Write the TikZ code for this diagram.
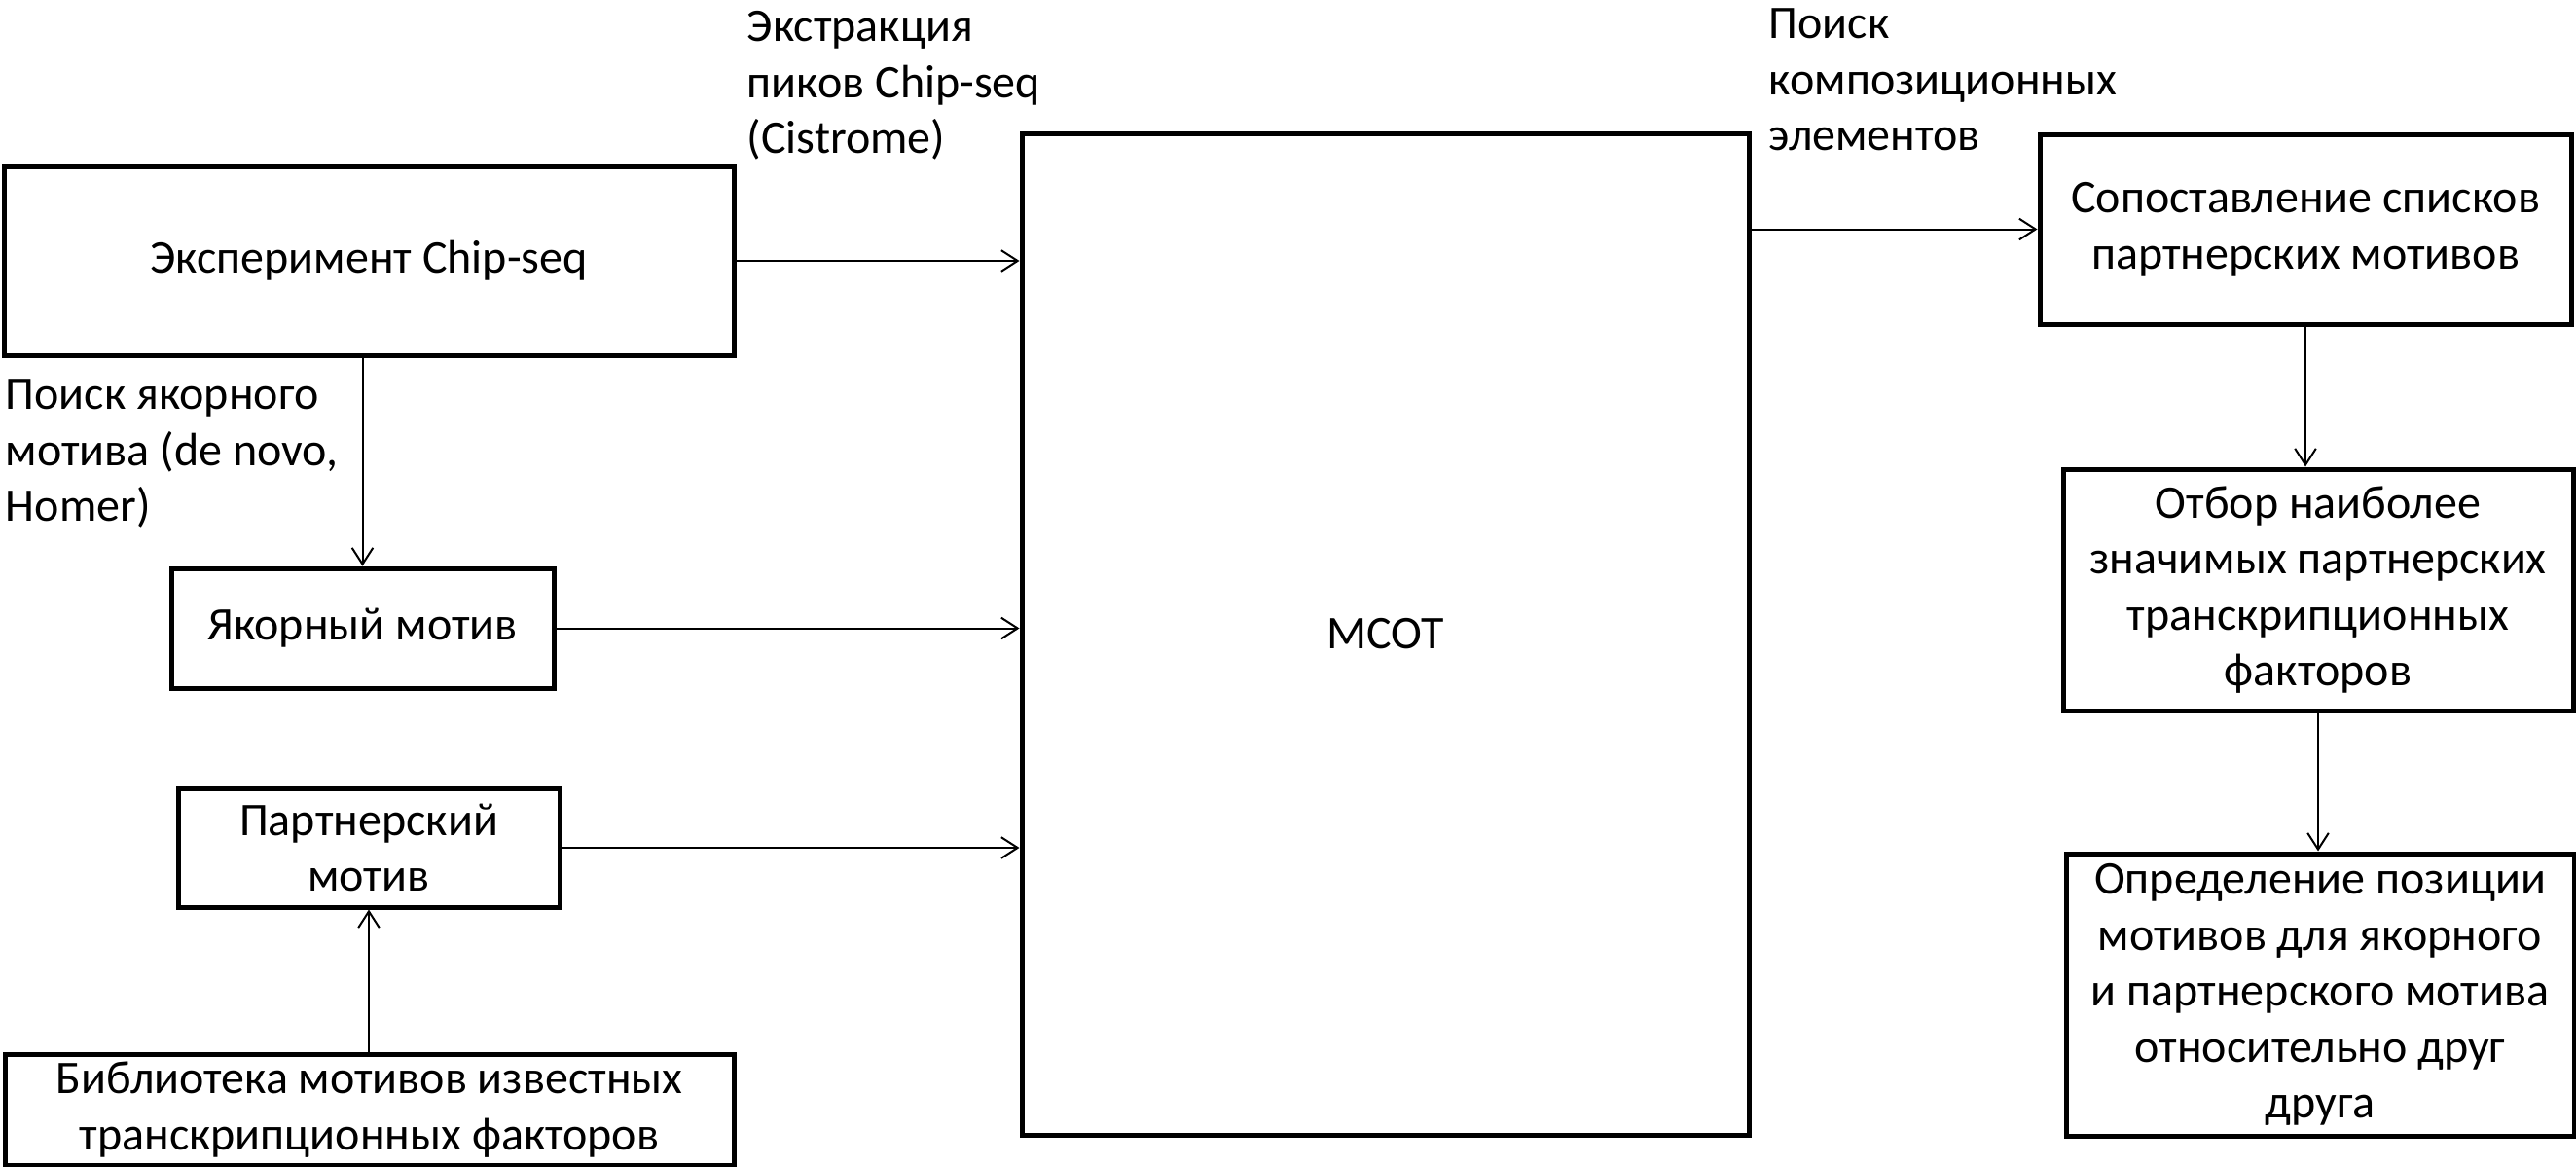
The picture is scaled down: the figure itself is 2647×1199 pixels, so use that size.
\documentclass[tikz,border=0pt]{standalone}
\usepackage{fontspec}
\setmainfont{Carlito}
\usetikzlibrary{arrows.meta}
\tikzset{
  box/.style={draw, line width=1.25pt, align=center, inner sep=0pt,
    font=\fontsize{12pt}{14.4pt}\selectfont},
  conn/.style={line width=0.5pt, -{Straight Barb[length=4.2pt,width=5.4pt,line width=0.5pt]}},
  lbl/.style={anchor=west, align=left, inner sep=0pt,
    font=\fontsize{12pt}{14.4pt}\selectfont}
}
\begin{document}
\begin{tikzpicture}[x=0.25pt,y=-0.25pt]
\useasboundingbox (0,0) rectangle (2647,1199);
% boxes
\node[box, minimum width=187.5pt, minimum height=48.5pt] (chip) at (379,268) {Эксперимент Chip-seq};
\node[box, minimum width=98.25pt, minimum height=30.75pt] (anchor) at (372.5,645.5) {Якорный мотив};
\node[box, minimum width=98pt, minimum height=30.5pt] (partner) at (379,871) {Партнерский\\мотив};
\node[box, minimum width=187.25pt, minimum height=28.5pt] (library) at (379.5,1140) {Библиотека мотивов известных\\транскрипционных факторов};
\node[box, minimum width=186.75pt, minimum height=257.25pt] (mcot) at (1423.5,651.5) {MCOT};
\node[box, minimum width=136.5pt, minimum height=48.75pt] (sopost) at (2369,235.5) {Сопоставление списков\\партнерских мотивов};
\node[box, minimum width=131pt, minimum height=62pt] (otbor) at (2382,606) {Отбор наиболее\\значимых партнерских\\транскрипционных\\факторов};
\node[box, minimum width=130.5pt, minimum height=72.5pt] (opred) at (2384,1022) {Определение позиции\\мотивов для якорного\\и партнерского мотива\\относительно друг\\друга};
% labels
\node[lbl] (lextr) at (767,88) {Экстракция\\пиков Chip-seq\\(Cistrome)};
\node[lbl] (lcomp) at (1817,82) {Поиск\\композиционных\\элементов};
\node[lbl] (lanch) at (5,466) {Поиск якорного\\мотива (de novo,\\Homer)};
% connectors
\draw[conn] (chip.east) -- (chip.east -| mcot.west);
\draw[conn] (anchor.north |- chip.south) -- (anchor.north);
\draw[conn] (anchor.east) -- (anchor.east -| mcot.west);
\draw[conn] (partner.east) -- (partner.east -| mcot.west);
\draw[conn] (partner.south |- library.north) -- (partner.south);
\draw[conn] (sopost.west -| mcot.east) -- (sopost.west);
\draw[conn] (sopost.south) -- (sopost.south |- otbor.north);
\draw[conn] (otbor.south) -- (otbor.south |- opred.north);
\end{tikzpicture}
\end{document}
